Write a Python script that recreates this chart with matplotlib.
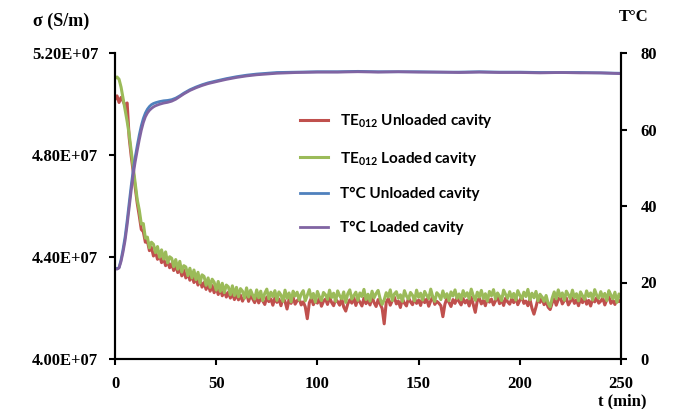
import numpy as np
import matplotlib
matplotlib.use("Agg")
import matplotlib.pyplot as plt
from matplotlib.ticker import FuncFormatter, MultipleLocator

plt.rcParams['font.family'] = ['Liberation Serif', 'DejaVu Serif']
plt.rcParams['font.weight'] = 'bold'

# time axis for the conductivity records (min), one sample per minute
t_sigma = np.arange(0, 251)

# conductivity, TE012 loaded cavity (units of 1e4 S/m)
sigma_loaded = [
    5100, 5106, 5097, 5066, 5021, 4976, 4932, 4881, 4818, 4752,
    4688, 4624, 4584, 4529, 4531, 4474, 4478, 4436, 4458, 4450,
    4417, 4441, 4399, 4428, 4392, 4420, 4377, 4401, 4395, 4362,
    4390, 4352, 4383, 4341, 4366, 4361, 4327, 4356, 4318, 4349,
    4311, 4340, 4298, 4330, 4324, 4289, 4318, 4281, 4313, 4301,
    4270, 4304, 4265, 4297, 4260, 4290, 4283, 4252, 4287, 4249,
    4281, 4244, 4276, 4266, 4238, 4279, 4243, 4270, 4251, 4235,
    4271, 4240, 4266, 4229, 4258, 4274, 4236, 4262, 4245, 4268,
    4230, 4263, 4251, 4226, 4270, 4238, 4259, 4224, 4266, 4247,
    4262, 4231, 4255, 4268, 4228, 4250, 4272, 4239, 4257, 4223,
    4265, 4244, 4229, 4261, 4252, 4234, 4270, 4241, 4258, 4226,
    4267, 4248, 4236, 4263, 4222, 4256, 4271, 4235, 4249, 4262,
    4230, 4259, 4245, 4273, 4233, 4254, 4227, 4266, 4240, 4257,
    4269, 4236, 4214, 4232, 4260, 4243, 4271, 4229, 4255, 4264,
    4238, 4252, 4226, 4268, 4247, 4235, 4261, 4250, 4228, 4270,
    4242, 4258, 4231, 4265, 4249, 4237, 4274, 4244, 4226, 4260,
    4251, 4233, 4267, 4240, 4256, 4229, 4263, 4247, 4271, 4238,
    4255, 4232, 4268, 4245, 4260, 4236, 4274, 4249, 4230, 4262,
    4243, 4269, 4237, 4256, 4227, 4265, 4248, 4272, 4235, 4259,
    4246, 4229, 4270, 4253, 4238, 4264, 4241, 4257, 4231, 4268,
    4250, 4236, 4262, 4245, 4273, 4232, 4258, 4240, 4265, 4228,
    4254, 4243, 4226, 4249, 4218, 4205, 4239, 4263, 4236, 4271,
    4244, 4259, 4230, 4266, 4252, 4237, 4270, 4241, 4256, 4228,
    4263, 4248, 4234, 4267, 4245, 4259, 4231, 4272, 4250, 4238,
    4264, 4243, 4257, 4229, 4268, 4251, 4236, 4262, 4222, 4255,
    4240,
]

# conductivity, TE012 unloaded cavity (units of 1e4 S/m)
sigma_unloaded = [
    5018, 5032, 5006, 5026, 5011, 4994, 5004, 4868, 4796, 4735,
    4672, 4610, 4561, 4508, 4499, 4458, 4463, 4425, 4438, 4404,
    4420, 4391, 4409, 4378, 4395, 4366, 4384, 4358, 4374, 4347,
    4368, 4339, 4355, 4326, 4348, 4318, 4337, 4309, 4329, 4300,
    4317, 4290, 4311, 4282, 4300, 4273, 4295, 4266, 4288, 4260,
    4281, 4253, 4276, 4248, 4268, 4243, 4262, 4239, 4259, 4233,
    4256, 4232, 4250, 4227, 4244, 4258, 4226, 4249, 4236, 4221,
    4246, 4220, 4239, 4228, 4214, 4243, 4225, 4236, 4211, 4240,
    4222, 4235, 4209, 4240, 4226, 4196, 4233, 4218, 4242, 4215,
    4229, 4237, 4212, 4224, 4205, 4158, 4220, 4238, 4213, 4231,
    4219, 4240, 4207, 4226, 4235, 4214, 4243, 4222, 4209, 4234,
    4225, 4211, 4238, 4204, 4188, 4216, 4232, 4219, 4241, 4210,
    4236, 4223, 4208, 4239, 4217, 4230, 4212, 4244, 4221, 4206,
    4233, 4215, 4198, 4138, 4222, 4237, 4211, 4229, 4243, 4216,
    4227, 4202, 4236, 4219, 4208, 4240, 4224, 4213, 4238, 4218,
    4231, 4210, 4242, 4221, 4235, 4207, 4228, 4244, 4214, 4226,
    4219, 4209, 4166, 4215, 4238, 4222, 4206, 4233, 4218, 4241,
    4225, 4212, 4237, 4220, 4231, 4208, 4242, 4214, 4183, 4229,
    4238, 4216, 4230, 4209, 4241, 4223, 4235, 4212, 4228, 4244,
    4217, 4233, 4210, 4239, 4224, 4215, 4236, 4221, 4242, 4213,
    4230, 4244, 4218, 4227, 4209, 4235, 4199, 4176, 4204, 4237,
    4222, 4241, 4213, 4226, 4203, 4194, 4220, 4236, 4211, 4233,
    4244, 4216, 4229, 4239, 4212, 4226, 4240, 4218, 4232, 4209,
    4238, 4221, 4243, 4215, 4230, 4208, 4236, 4224, 4241, 4219,
    4227, 4239, 4212, 4233, 4245, 4218, 4230, 4214, 4237, 4225,
    4232,
]

# temperature records (min, degC)
t_temp = [0, 1, 2, 3, 4, 5, 6, 7, 8, 9, 10, 11, 12, 13, 14, 15, 16, 17, 18, 19,
          20, 22, 24, 26, 28, 30, 32, 34, 37, 40, 43, 46, 50, 55, 60, 65, 70, 75,
          80, 90, 100, 110, 120, 130, 140, 150, 160, 170, 180, 190, 200, 210,
          220, 230, 240, 250]
temp_loaded = [23.6, 23.5, 23.8, 25.5, 28.0, 31.0, 35.0, 39.5, 44.0, 48.2,
               51.6, 54.5, 57.3, 59.8, 61.8, 63.3, 64.3, 65.0, 65.5, 65.9,
               66.2, 66.6, 66.9, 67.1, 67.4, 67.9, 68.6, 69.3, 70.2, 70.9,
               71.5, 72.0, 72.5, 73.1, 73.6, 74.0, 74.3, 74.5, 74.7, 74.9,
               75.0, 75.0, 75.1, 75.0, 75.1, 75.0, 75.0, 74.9, 75.0, 74.9,
               74.9, 74.8, 74.9, 74.8, 74.8, 74.6]
temp_unloaded = [23.8, 23.6, 23.9, 26.0, 28.8, 32.0, 36.2, 40.8, 45.3, 49.4,
                 52.8, 55.8, 58.6, 61.0, 62.9, 64.3, 65.3, 66.0, 66.5, 66.8,
                 67.0, 67.3, 67.5, 67.6, 67.8, 68.2, 68.8, 69.5, 70.4, 71.1,
                 71.7, 72.2, 72.7, 73.3, 73.8, 74.2, 74.5, 74.7, 74.9, 75.0,
                 75.1, 75.1, 75.2, 75.1, 75.1, 75.1, 75.0, 75.0, 75.1, 75.0,
                 75.0, 74.9, 74.9, 74.9, 74.8, 74.7]

labels = [r"TE$_{\mathregular{012}}$ Unloaded cavity",
          r"TE$_{\mathregular{012}}$ Loaded cavity",
          "T°C Unloaded cavity",
          "T°C Loaded cavity"]
colors = ['#C0504D', '#9BBB59', '#4F81BD', '#8064A2']

fig = plt.figure(figsize=(6.81, 4.09), dpi=100)
ax = fig.add_axes([115/681, 1 - 359/409, 506/681, 306/409])
ax2 = ax.twinx()

l1, = ax.plot(t_sigma, np.array(sigma_unloaded) * 1e4, color=colors[0], lw=2.2)
l2, = ax.plot(t_sigma, np.array(sigma_loaded) * 1e4, color=colors[1], lw=2.2)
l3, = ax2.plot(t_temp, temp_unloaded, color=colors[2], lw=2.0)
l4, = ax2.plot(t_temp, temp_loaded, color=colors[3], lw=2.0)

ax.set_xlim(0, 250)
ax.set_ylim(4.0e7, 5.2e7)
ax2.set_ylim(0, 80)
ax.xaxis.set_major_locator(MultipleLocator(50))
ax.yaxis.set_major_locator(MultipleLocator(0.4e7))
ax.yaxis.set_major_formatter(FuncFormatter(lambda v, p: f"{v:.2E}"))
ax2.yaxis.set_major_locator(MultipleLocator(20))

for a in (ax, ax2):
    a.spines['top'].set_visible(False)
    for s in ('left', 'right', 'bottom'):
        a.spines[s].set_linewidth(1.5)
ax.tick_params(axis='both', direction='out', length=4, width=1.5, labelsize=12, pad=8)
ax2.tick_params(axis='y', direction='out', length=4, width=1.5, labelsize=12, pad=10)

fig.text(61/681, 1 - 21/409, "σ (S/m)", ha='center', va='center', fontsize=13, fontweight='bold')
fig.text(634/681, 1 - 17/409, "T°C", ha='center', va='center', fontsize=12, fontweight='bold')
fig.text(622/681, 1 - 401/409, "t (min)", ha='center', va='center', fontsize=12, fontweight='bold')

leg = ax2.legend([l1, l2, l3, l4], labels, loc='upper left',
                 bbox_to_anchor=(300/681, 1 - 112/409), bbox_transform=fig.transFigure,
                 frameon=False, borderpad=0, borderaxespad=0, handlelength=1.85,
                 handletextpad=0.8, labelspacing=1.28,
                 prop={'family': 'Lato', 'weight': 'bold', 'size': 11})

fig.savefig("out.png", dpi=100)
